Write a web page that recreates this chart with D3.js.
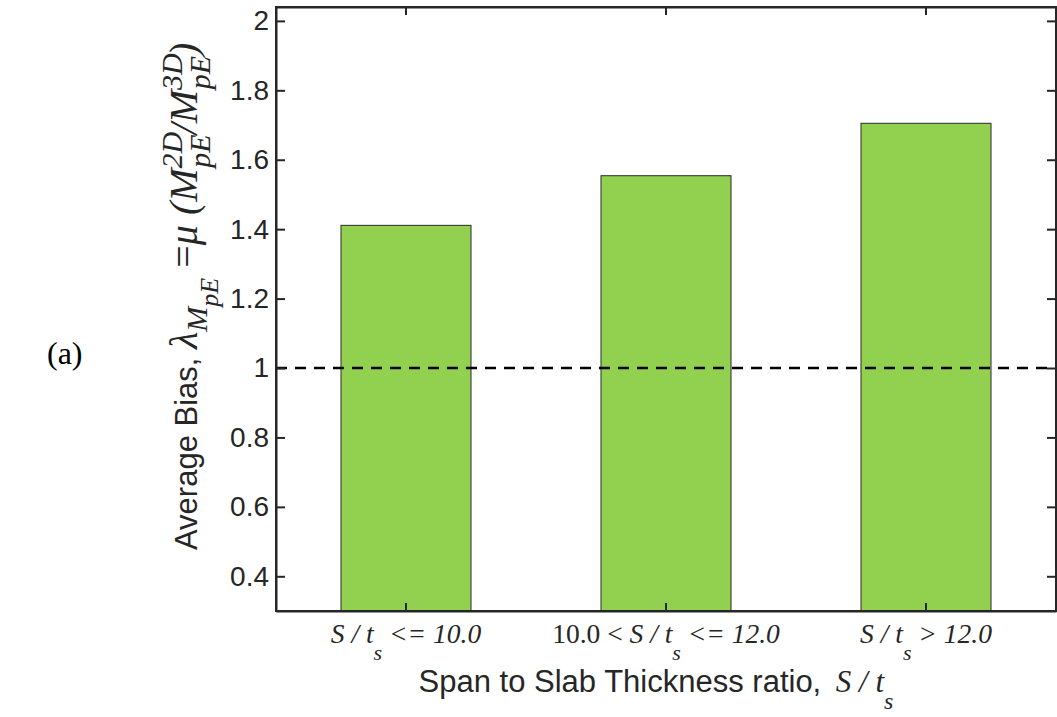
<!DOCTYPE html>
<html>
<head>
<meta charset="utf-8">
<script src="https://cdn.jsdelivr.net/npm/d3@7"></script>
<style>
  body { margin: 0; background: #fff; }
  svg { display: block; }
</style>
</head>
<body>
<svg id="chart" width="1057" height="717"></svg>
<script>
// ---- data ----
const categories = ["c1", "c2", "c3"];
const biasValues = [1.411, 1.554, 1.705];
const yTicks = [0.4, 0.6, 0.8, 1, 1.2, 1.4, 1.6, 1.8, 2];
const referenceLine = 1.0;

// ---- layout ----
const svg = d3.select("#chart");
const L = 276, R = 1056, T = 7, B = 611;
const axisColor = "#262626";
const sans = "'Liberation Sans', Arial, sans-serif";
const serif = "'Liberation Serif', 'Times New Roman', serif";

const x = d3.scaleBand().domain(categories).range([L, R]).paddingInner(0.5).paddingOuter(0.25);
const y = d3.scaleLinear().domain([0.3, 2.04]).range([B, T]);

// bars
svg.append("g").selectAll("rect").data(categories).join("rect")
  .attr("x", d => x(d))
  .attr("width", x.bandwidth())
  .attr("y", (d, i) => y(biasValues[i]))
  .attr("height", (d, i) => y(0.3) - y(biasValues[i]))
  .attr("fill", "#92d050")
  .attr("stroke", "#2a2a2a")
  .attr("stroke-width", 1);

// dashed reference line
svg.append("line")
  .attr("x1", L).attr("x2", R)
  .attr("y1", y(referenceLine)).attr("y2", y(referenceLine))
  .attr("stroke", "#000").attr("stroke-width", 2.5)
  .attr("stroke-dasharray", "11,8");

// axes
const tickFmt = d => (d === 1 || d === 2) ? d3.format("d")(d) : d3.format(".1f")(d);
const yAxis = d3.axisLeft(y).tickValues(yTicks).tickFormat(tickFmt).tickSizeInner(-9).tickSizeOuter(0).tickPadding(7);
const gy = svg.append("g").attr("transform", `translate(${L},0)`).call(yAxis);
gy.selectAll(".tick text")
  .attr("x", -7)
  .attr("font-family", sans).attr("font-size", 28).attr("fill", axisColor);

const yAxisR = d3.axisRight(y).tickValues(yTicks).tickFormat("").tickSizeInner(-9).tickSizeOuter(0);
const gyr = svg.append("g").attr("transform", `translate(${R},0)`).call(yAxisR);

const xAxisB = d3.axisBottom(x).tickFormat("").tickSizeInner(-8).tickSizeOuter(0);
const gxb = svg.append("g").attr("transform", `translate(0,${B})`).call(xAxisB);
const xAxisT = d3.axisTop(x).tickFormat("").tickSizeInner(-8).tickSizeOuter(0);
const gxt = svg.append("g").attr("transform", `translate(0,${T})`).call(xAxisT);

[gy, gyr, gxb, gxt].forEach(g => {
  g.select(".domain").attr("stroke", axisColor).attr("stroke-width", 2);
  g.selectAll(".tick line").attr("stroke", axisColor).attr("stroke-width", 2);
});
svg.append("rect").attr("x", L).attr("y", T).attr("width", R - L).attr("height", B - T)
  .attr("fill", "none").attr("stroke", axisColor).attr("stroke-width", 2);

// category labels (rich text: [text, style, isSubscript])
const catParts = [
  [["S / t", "i", 0], ["s", "i", 1], [" <= 10.0", "i", 0]],
  [["10.0 < ", "n", 0], ["S / t", "i", 0], ["s", "i", 1], [" <= 12.0", "i", 0]],
  [["S / t", "i", 0], ["s", "i", 1], [" > 12.0", "i", 0]]
];
categories.forEach((c, i) => {
  const t = svg.append("text")
    .attr("x", x(c) + x.bandwidth() / 2).attr("y", 643)
    .attr("text-anchor", "middle")
    .attr("font-family", serif).attr("font-size", 27.5).attr("fill", axisColor);
  catParts[i].forEach((p, k) => {
    const prev = k > 0 ? catParts[i][k - 1] : null;
    const ts = t.append("tspan").text(p[0]).attr("font-style", p[1] === "i" ? "italic" : "normal");
    if (p[2] === 1) ts.attr("dy", 17).attr("font-size", 22);
    else if (prev && prev[2] === 1) ts.attr("dy", -17);
  });
});

// x-axis title
const xt = svg.append("text").attr("x", 656).attr("y", 692).attr("text-anchor", "middle")
  .attr("font-family", sans).attr("font-size", 31).attr("fill", axisColor);
xt.append("tspan").text("Span to Slab Thickness ratio,  ");
xt.append("tspan").text("S / t").attr("dx", 6).attr("font-family", serif).attr("font-style", "italic");
xt.append("tspan").text("s").attr("font-family", serif).attr("font-style", "italic").attr("font-size", 24).attr("dy", 17);

// y-axis title
const yt = svg.append("text").attr("transform", "translate(197,550) rotate(-90)")
  .attr("text-anchor", "start").attr("font-family", sans).attr("font-size", 31).attr("fill", axisColor);
const MF = 40, SF = 30, SSF = 26;
const it = (sel) => sel.attr("font-family", serif).attr("font-style", "italic");
yt.append("tspan").text("Average Bias, ");
it(yt.append("tspan")).text("λ").attr("font-size", MF);
it(yt.append("tspan")).text("M").attr("font-size", SF).attr("dy", 10);
it(yt.append("tspan")).text("pE").attr("font-size", SSF).attr("dy", 11);
yt.append("tspan").text(" =").attr("font-family", serif).attr("font-size", MF).attr("dy", -21);
it(yt.append("tspan")).text("μ (").attr("font-size", MF);
it(yt.append("tspan")).text("M").attr("font-size", MF);
it(yt.append("tspan")).text("2D").attr("font-size", SF).attr("dy", -15);
it(yt.append("tspan")).text("pE").attr("font-size", SF).attr("dx", -36).attr("dy", 28);
it(yt.append("tspan")).text("/M").attr("font-size", MF).attr("dy", -13);
it(yt.append("tspan")).text("3D").attr("font-size", SF).attr("dy", -15);
it(yt.append("tspan")).text("pE").attr("font-size", SF).attr("dx", -36).attr("dy", 28);
it(yt.append("tspan")).text(")").attr("font-size", MF).attr("dy", -13);

// panel label
svg.append("text").attr("x", 47).attr("y", 364).attr("font-family", serif).attr("font-size", 32)
  .attr("fill", "#000").text("(a)");
</script>
</body>
</html>
